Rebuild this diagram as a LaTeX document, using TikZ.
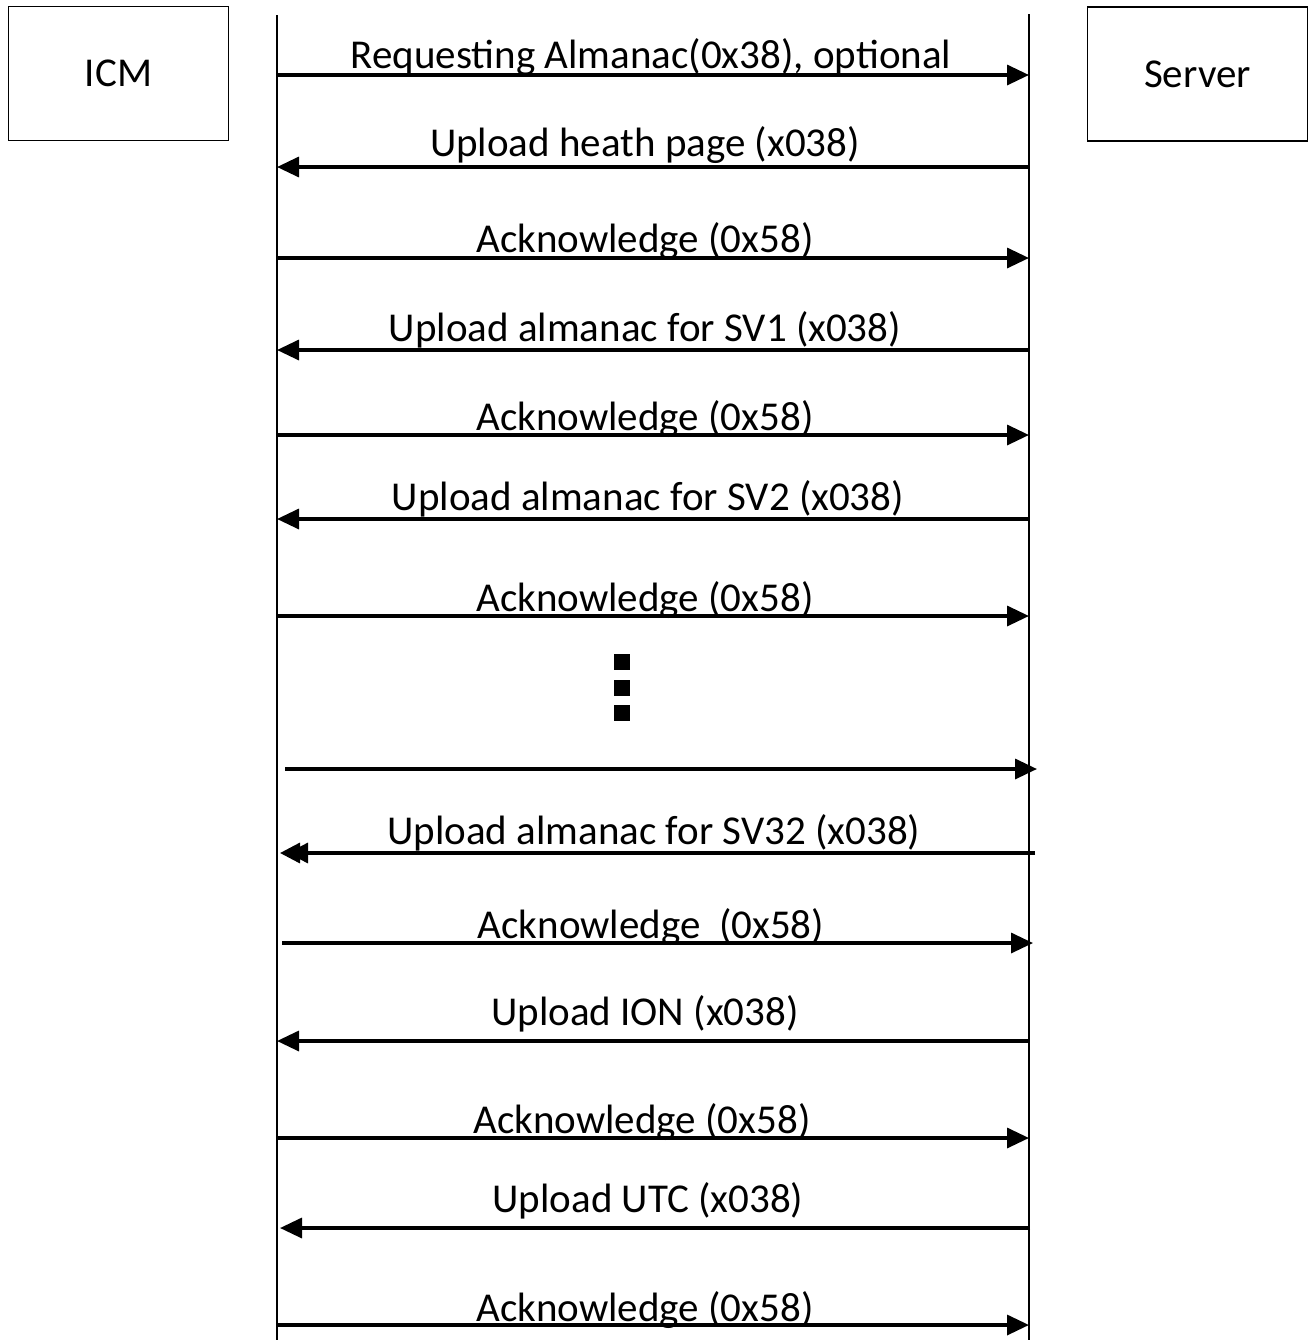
\documentclass[tikz,border=0pt]{standalone}
\usepackage{fontspec}
\setmainfont{Carlito}
\usetikzlibrary{arrows.meta, positioning}

\begin{document}
\begin{tikzpicture}[x=0.5pt, y=-0.5pt,
  actor/.style={draw, line width=0.8pt, minimum width=110pt, minimum height=67pt,
                inner sep=0pt, font=\fontsize{20.5}{24}\selectfont},
  lifeline/.style={line width=1.2pt},
  msg/.style={line width=1.7pt, -{Triangle[length=11pt, width=10pt]}},
  msgtxt/.style={font=\fontsize{20.5}{24}\selectfont, anchor=base, inner sep=0pt},
  dot/.style={fill=black, minimum size=8pt, inner sep=0pt},
]
  \useasboundingbox (0,0) rectangle (1310,1340);

  % --- actors ---
  \node[actor] (icm) at (118.5,73.5) {ICM};
  \node[actor] (server) at (1197.5,74) {Server};

  % --- lifelines ---
  \coordinate (icmtop) at (277,15);
  \coordinate (icmend) at (277,1340);
  \coordinate (srvtop) at (1029,14);
  \coordinate (srvend) at (1029,1340);
  \draw[lifeline] (icmtop) -- (icmend);
  \draw[lifeline] (srvtop) -- (srvend);

  % --- messages: row/y/from/to/label/label x/label lift ---
  \foreach \i/\y/\xa/\xb/\txt/\tx/\dy in {
    1/75/277/1029/{Requesting Almanac(0x38), optional}/651/7,
    2/167/1029/277/{Upload heath page (x038)}/645/11,
    3/258/277/1029/{Acknowledge (0x58)}/645/6,
    4/350/1029/277/{Upload almanac for SV1 (x038)}/645/9,
    5/435/277/1029/{Acknowledge (0x58)}/645/5,
    6/519/1029/277/{Upload almanac for SV2 (x038)}/648/9,
    7/616/277/1029/{Acknowledge (0x58)}/645/5,
    10/943/282/1033/{Acknowledge\ \ (0x58)}/651/5,
    11/1041/1029/277/{Upload ION (x038)}/645/16,
    12/1138/277/1029/{Acknowledge (0x58)}/642/5,
    13/1228/1030/280/{Upload UTC (x038)}/648/16,
    14/1325/277/1029/{Acknowledge (0x58)}/645/4
  } {
    \coordinate (a\i) at (\xa,\y);
    \coordinate (b\i) at (\xb,\y);
    \draw[msg] (a\i) -- (b\i);
    \node[msgtxt] (t\i) at (\tx,\y-\dy) {\txt};
  }

  % unlabelled message after the gap
  \coordinate (a8) at (285,769);
  \coordinate (b8) at (1037,769);
  \draw[msg] (a8) -- (b8);

  % SV32 with a doubled head
  \coordinate (a9) at (1035,853);
  \coordinate (b9) at (280,853);
  \draw[line width=1.7pt,
        -{Triangle[length=10pt, width=10pt, sep=-6pt]Triangle[length=10pt, width=10pt]}]
    (a9) -- (b9);
  \node[msgtxt] (t9) at (654,844) {Upload almanac for SV32 (x038)};

  % --- gap dots ---
  \foreach \k/\y in {1/662, 2/688, 3/713}
    \node[dot] (gap\k) at (622,\y) {};
\end{tikzpicture}
\end{document}
